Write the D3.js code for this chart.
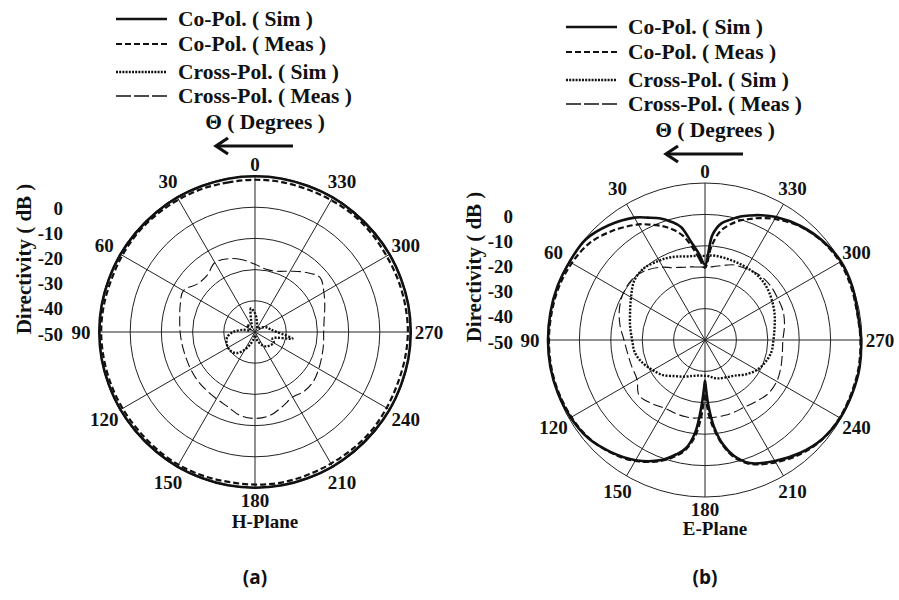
<!DOCTYPE html>
<html>
<head>
<meta charset="utf-8">
<script src="https://cdn.jsdelivr.net/npm/d3@7/dist/d3.min.js"></script>
<style>
    body { margin: 0; background: #fff; }
    svg text { font-family: "Times New Roman", "Liberation Serif", serif; font-weight: bold; fill: #111; }
    svg text.sub { font-family: "Open Sans", sans-serif; font-weight: 700; }
</style>
</head>
<body>
<div id="chart"></div>
<script>
// ---- data (dB values) ----
const legendLabels = ["Co-Pol. ( Sim )", "Co-Pol. ( Meas )", "Cross-Pol. ( Sim )", "Cross-Pol. ( Meas )"]
const angleTicks = [0, 30, 60, 90, 120, 150, 180, 210, 240, 270, 300, 330]
const dbTicks = [0, -10, -20, -30, -40, -50]

// H-plane, every 10 degrees
const hAngles = [0, 10, 20, 30, 40, 50, 60, 70, 80, 90, 100, 110, 120, 130, 140, 150, 160, 170,
    180, 190, 200, 210, 220, 230, 240, 250, 260, 270, 280, 290, 300, 310, 320, 330, 340, 350]
const hCoSim = [-0.1, -0.1, -0.2, -0.2, -0.3, -0.3, -0.2, -0.2, -0.1, -0.1, -0.1, -0.2, -0.2, -0.3, -0.3, -0.2, -0.2, -0.1,
    -0.1, -0.1, -0.2, -0.2, -0.3, -0.3, -0.2, -0.2, -0.1, -0.1, -0.1, -0.2, -0.2, -0.3, -0.3, -0.2, -0.2, -0.1]
const hCoMeas = [-1.2, -1.3, -1.1, -1.0, -0.9, -0.8, -0.9, -1.0, -0.8, -0.7, -0.8, -0.9, -1.0, -1.1, -1.0, -0.9, -1.0, -1.2,
    -1.1, -1.0, -1.2, -1.3, -1.2, -1.1, -1.3, -1.4, -1.2, -1.0, -1.1, -1.2, -1.3, -1.1, -1.0, -1.2, -1.3, -1.2]
const hCrossSim = [-44, -42.3, -46.5, -48, -47.5, -46.6, -48, -48.5, -46, -43, -41, -40.3, -40, -40.2, -41.2, -43.5, -46, -48,
    -49, -48, -46.5, -45, -44, -43.5, -43, -44, -37.8, -43, -45, -45.8, -47, -48, -48.5, -48.5, -48, -46.5]
const hCrossMeas = [-28.3, -26.5, -25.0, -24.3, -26.2, -26.0, -23.5, -24.5, -25.5, -26.0, -26.3, -26.4, -26.2, -25.9, -25.7, -25.3, -24.5, -22.8,
    -22.3, -22.8, -24.5, -25.9, -25.3, -25.5, -26.4, -27.2, -27.7, -28.0, -27.5, -26.2, -24.5, -22.8, -25.0, -27.5, -29.3, -29.6]

// E-plane, denser near the nulls
const eAngles = [0, 4, 8, 12, 16, 20, 25, 30, 40, 50, 60, 70, 80, 90, 100, 110, 120, 130, 140, 150, 160, 166, 170, 174, 177, 179,
    180, 181, 183, 186, 190, 194, 200, 210, 220, 230, 240, 250, 260, 270, 280, 290, 300, 310, 320, 330, 336, 340, 344, 348, 352, 356]
const eCoSim = [-26, -22.5, -18.5, -13.2, -10.8, -8.8, -7.0, -5.0, -2.3, -0.3, -0.2, 0, 0, 0, 0, -0.2, -0.6, -1.4, -3.4, -5.8, -9.3, -12.5, -15, -20.5, -29, -35,
    -37, -35, -29, -22, -16, -12, -8.3, -5.5, -3.0, -1.1, -0.3, -0.1, 0, -0.3, -0.6, -0.1, 0, -1.0, -2.6, -4.8, -6.5, -7.8, -9.1, -10.8, -12.5, -16.5]
const eCoMeas = [-27, -24, -20, -16, -13.5, -11.5, -9.5, -7.5, -4.5, -2.0, -1.0, -0.5, -0.4, -0.3, -0.3, -0.5, -0.9, -1.6, -3.2, -5.5, -9.0, -12, -14.5, -19, -25, -31,
    -33, -31, -26, -21, -15.5, -11.5, -8.0, -5.0, -2.6, -1.0, -0.5, -0.4, -0.3, -0.5, -0.8, -0.5, -0.4, -1.2, -2.8, -5.5, -7.5, -9.0, -10.5, -12.5, -15, -20]
const eCrossSim = [-23.2, -23.1, -23.0, -22.8, -22.3, -21.8, -21.2, -20.8, -20.0, -20.6, -22.8, -24.6, -25.8, -26.8, -27.3, -28.8, -30.8, -32.6, -35.0, -36.5, -37.8, -38.3, -38.5, -38.6, -38.6, -38.6,
    -38.6, -38.6, -38.6, -38.4, -38.0, -37.5, -37.0, -36.3, -35.2, -33.0, -30.9, -29.5, -28.5, -28.2, -27.5, -26.4, -25.3, -24.2, -23.5, -23.4, -23.3, -23.3, -23.2, -23.1, -23.0, -23.0]
const eCrossMeas = [-26.8, -26.7, -26.5, -26.2, -25.9, -25.4, -24.6, -23.2, -21.0, -19.8, -20.0, -21.0, -22.5, -24.2, -25.0, -25.2, -25.0, -22.6, -23.6, -24.8, -24.8, -24.8, -24.8, -25.0, -25.2, -25.2,
    -25.2, -25.2, -25.2, -25.2, -25.2, -25.2, -25.2, -25.2, -24.5, -23.6, -23.6, -24.3, -25.0, -25.2, -24.3, -23.5, -23.3, -22.9, -23.0, -23.8, -24.2, -24.5, -25.2, -25.8, -26.3, -26.7]

// line styles for the four series (chart / legend dash)
const styles = [
    { width: 2.6, dash: null, legendDash: null },
    { width: 2.2, dash: "6,3", legendDash: "6,3" },
    { width: 2.4, dash: "2,1.5", legendDash: "2,1.2" },
    { width: 1.1, dash: "10,4", legendDash: "15,3" }
]

const W = 899, H = 600
const svg = d3.select("#chart").append("svg")
    .attr("width", W)
    .attr("height", H)

function drawPolar(cfg) {
    const { cx, cy, R } = cfg
    const r = d3.scaleLinear().domain([-50, 0]).range([0, R])
    // theta grows counter-clockwise from the top
    const a = d3.scaleLinear().domain([0, 360]).range([0, -2 * Math.PI])
    const g = svg.append("g").attr("transform", `translate(${cx},${cy})`)

    // rings
    g.selectAll("circle.ring")
        .data([-40, -30, -20, -10, 0])
        .join("circle")
        .attr("class", "ring")
        .attr("r", d => r(d))
        .attr("fill", "none")
        .attr("stroke", "#222")
        .attr("stroke-width", 1)

    // spokes
    g.selectAll("line.spoke")
        .data(angleTicks)
        .join("line")
        .attr("class", "spoke")
        .attr("x1", 0).attr("y1", 0)
        .attr("x2", d => R * Math.sin(a(d)))
        .attr("y2", d => -R * Math.cos(a(d)))
        .attr("stroke", "#222")
        .attr("stroke-width", 1)

    // angle labels
    const off = d => R + (d % 180 === 0 ? 12 : 18)
    g.selectAll("text.ang")
        .data(angleTicks)
        .join("text")
        .attr("class", "ang")
        .attr("x", d => off(d) * Math.sin(a(d)))
        .attr("y", d => -off(d) * Math.cos(a(d)))
        .attr("text-anchor", "middle")
        .attr("dominant-baseline", "central")
        .style("font-size", "19px")
        .text(d => d)

    // curves
    const line = d3.lineRadial()
        .angle(d => a(d[0]))
        .radius(d => r(d[1]))
        .curve(d3.curveCatmullRomClosed.alpha(0.5))
    const order = [3, 2, 0, 1]
    order.forEach(i => {
        const vals = cfg.series[i]
        g.append("path")
            .datum(cfg.angles.map((t, k) => [t, vals[k]]))
            .attr("d", line)
            .attr("fill", "none")
            .attr("stroke", "#111")
            .attr("stroke-width", styles[i].width)
            .attr("stroke-dasharray", styles[i].dash)
    })

    // dB tick labels on the left
    const yTick = d3.scaleLinear().domain([-50, 0]).range([2, -124])
    g.selectAll("text.db")
        .data(dbTicks)
        .join("text")
        .attr("class", "db")
        .attr("x", -192)
        .attr("y", d => yTick(d))
        .attr("text-anchor", "end")
        .attr("dominant-baseline", "central")
        .style("font-size", "19px")
        .text(d => d)

    g.append("text")
        .attr("transform", `translate(${-231},${-73}) rotate(-90)`)
        .attr("text-anchor", "middle")
        .attr("dominant-baseline", "central")
        .style("font-size", "21px")
        .text("Directivity ( dB )")

    // legend
    const rows = [-313, -288, -260, -236]
    const lg = g.append("g")
    legendLabels.forEach((lab, i) => {
        lg.append("line")
            .attr("x1", -139).attr("x2", -88)
            .attr("y1", rows[i]).attr("y2", rows[i])
            .attr("stroke", "#111")
            .attr("stroke-width", i === 3 ? 1.4 : styles[i].width)
            .attr("stroke-dasharray", styles[i].legendDash)
        lg.append("text")
            .attr("x", -77).attr("y", rows[i])
            .attr("dominant-baseline", "central")
            .style("font-size", "21.5px")
            .text(lab)
    })
    lg.append("text")
        .attr("x", 10).attr("y", -210)
        .attr("text-anchor", "middle")
        .attr("dominant-baseline", "central")
        .style("font-size", "21.5px")
        .text("Θ ( Degrees )")
    // direction arrow
    lg.append("line")
        .attr("x1", 38).attr("x2", -38)
        .attr("y1", -186).attr("y2", -186)
        .attr("stroke", "#111").attr("stroke-width", 3.2)
    lg.append("path")
        .attr("d", "M-27,-194 L-39,-186 L-27,-178")
        .attr("fill", "none")
        .attr("stroke", "#111").attr("stroke-width", 3.2)
        .attr("stroke-linejoin", "miter")

    svg.append("text")
        .attr("x", cx + 10).attr("y", cfg.titleY)
        .attr("text-anchor", "middle")
        .attr("dominant-baseline", "central")
        .style("font-size", "19px")
        .text(cfg.title)
    svg.append("text")
        .attr("class", "sub")
        .attr("x", cx).attr("y", 577)
        .attr("text-anchor", "middle")
        .attr("dominant-baseline", "central")
        .style("font-size", "19px")
        .text(cfg.tag)
}

drawPolar({
    cx: 255, cy: 332, R: 156, title: "H-Plane", titleY: 521, tag: "(a)",
    angles: hAngles, series: [hCoSim, hCoMeas, hCrossSim, hCrossMeas]
})
drawPolar({
    cx: 705, cy: 340, R: 157, title: "E-Plane", titleY: 528, tag: "(b)",
    angles: eAngles, series: [eCoSim, eCoMeas, eCrossSim, eCrossMeas]
})
</script>
</body>
</html>
